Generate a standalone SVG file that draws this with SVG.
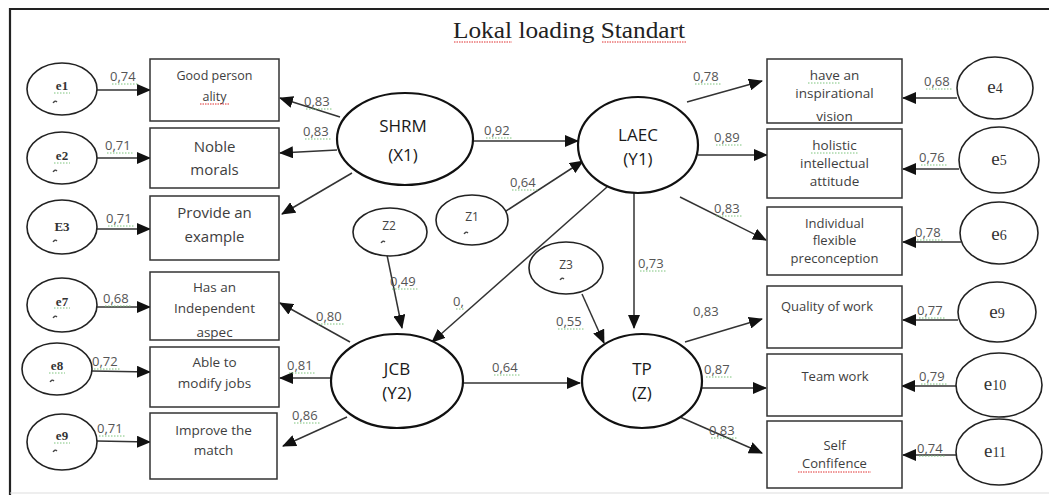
<svg xmlns="http://www.w3.org/2000/svg" width="1049" height="495" viewBox="0 0 1049 495">
  <style>
    .frame { stroke: #222; stroke-width: 2.2; fill: none; }
    .box { fill: #fff; stroke: #333; stroke-width: 1.5; }
    .lat { fill: #fff; stroke: #111; stroke-width: 2.2; }
    .err { fill: #fff; stroke: #222; stroke-width: 1.6; }
    .bt { font-family: "Open Sans", "Liberation Sans", sans-serif; fill: #3e3e3e; text-anchor: middle; }
    .nt { font-family: "Open Sans", "Liberation Sans", sans-serif; font-size: 17px; fill: #1a1a1a; text-anchor: middle; }
    .et { font-family: "Liberation Serif", serif; fill: #333; text-anchor: middle; }
    .zt { font-family: "Open Sans", "Liberation Sans", sans-serif; font-size: 12px; fill: #444; text-anchor: middle; }
    .num { font-family: "Open Sans", "Liberation Sans", sans-serif; font-size: 13px; fill: #555; }
    .edge { stroke: #333; stroke-width: 1.5; fill: none; marker-end: url(#tip); }
    .tilde { stroke: #444; stroke-width: 1.3; fill: none; }
    .green { stroke: #7cc47c; stroke-width: 1; stroke-dasharray: 1.5 1.5; }
    .red { stroke: #e03030; stroke-width: 1; stroke-dasharray: 1.5 1; }
  </style>
  <defs>
    <marker id="tip" markerUnits="userSpaceOnUse" markerWidth="14" markerHeight="12" viewBox="0 0 14 12" refX="13" refY="6" orient="auto">
      <path d="M0,0 L14,6 L0,12 Z" fill="#111"/>
    </marker>
    <clipPath id="clipVision"><rect x="768" y="60" width="133" height="62"/></clipPath>
    <clipPath id="clipAspec"><rect x="151" y="273" width="127" height="66"/></clipPath>
  </defs>

  <rect width="1049" height="495" fill="#fff"/>

  <!-- page frame -->
  <path class="frame" d="M10,495 L10,9 L1049,9"/>
  <line x1="10" y1="493" x2="1049" y2="493" stroke="#ddd" stroke-width="1"/>

  <!-- title -->
  <g id="title">
    <text x="453" y="38" font-family="Liberation Serif, serif" font-size="24" fill="#222" textLength="232" lengthAdjust="spacingAndGlyphs">Lokal loading Standart</text>
    <line class="red" x1="454" y1="42" x2="512" y2="42"/>
    <line class="red" x1="602" y1="42" x2="686" y2="42"/>
  </g>

  <!-- connectors -->
  <g id="connectors">
    <!-- error terms to left indicators -->
    <line class="edge" x1="97" y1="90" x2="150" y2="90"/>
    <line class="edge" x1="97" y1="158" x2="150" y2="158"/>
    <line class="edge" x1="97" y1="229" x2="150" y2="229"/>
    <line class="edge" x1="88" y1="307" x2="150" y2="307"/>
    <line class="edge" x1="92" y1="371" x2="150" y2="372"/>
    <line class="edge" x1="97" y1="441" x2="150" y2="442"/>
    <!-- SHRM loadings -->
    <line class="edge" x1="340" y1="117" x2="280" y2="98"/>
    <line class="edge" x1="337" y1="150" x2="280" y2="153"/>
    <line class="edge" x1="352" y1="173" x2="282" y2="214"/>
    <!-- structural paths -->
    <line class="edge" x1="473" y1="141" x2="578" y2="141"/>
    <line class="edge" x1="503" y1="213" x2="583" y2="161"/>
    <line class="edge" x1="607" y1="187" x2="432" y2="342"/>
    <line class="edge" x1="634" y1="193" x2="634" y2="328"/>
    <line class="edge" x1="387" y1="255" x2="402" y2="328"/>
    <line class="edge" x1="582" y1="294" x2="604" y2="343"/>
    <line class="edge" x1="463" y1="383" x2="580" y2="383"/>
    <!-- JCB loadings -->
    <line class="edge" x1="350" y1="342" x2="280" y2="303"/>
    <line class="edge" x1="331" y1="378" x2="280" y2="378"/>
    <line class="edge" x1="347" y1="417" x2="283" y2="446"/>
    <!-- LAEC loadings -->
    <line class="edge" x1="687" y1="102" x2="762" y2="81"/>
    <line class="edge" x1="698" y1="155" x2="767" y2="155"/>
    <line class="edge" x1="680" y1="197" x2="766" y2="240"/>
    <!-- TP loadings -->
    <line class="edge" x1="685" y1="342" x2="762" y2="319"/>
    <line class="edge" x1="702" y1="388" x2="766" y2="388"/>
    <line class="edge" x1="680" y1="417" x2="762" y2="453"/>
    <!-- error terms to right indicators -->
    <line class="edge" x1="957" y1="98" x2="903" y2="98"/>
    <line class="edge" x1="959" y1="169" x2="903" y2="169"/>
    <line class="edge" x1="961" y1="242" x2="903" y2="242"/>
    <line class="edge" x1="958" y1="320" x2="903" y2="320"/>
    <line class="edge" x1="956" y1="386" x2="902" y2="386"/>
    <line class="edge" x1="956" y1="455" x2="903" y2="455"/>
  </g>

  <!-- coefficient labels -->
  <g id="coefficients">
    <text class="num" x="110" y="81">0,74</text>
    <text class="num" x="105" y="150">0,71</text>
    <text class="num" x="106" y="223">0,71</text>
    <text class="num" x="103" y="303">0,68</text>
    <text class="num" x="92" y="366">0,72</text>
    <text class="num" x="97" y="433">0,71</text>
    <text class="num" x="304" y="106">0,83</text>
    <text class="num" x="303" y="136">0,83</text>
    <text class="num" x="484" y="135">0,92</text>
    <text class="num" x="510" y="187">0,64</text>
    <text class="num" x="453" y="306">0,</text>
    <text class="num" x="390" y="286">0,49</text>
    <text class="num" x="556" y="326">0,55</text>
    <text class="num" x="638" y="268">0,73</text>
    <text class="num" x="492" y="372">0,64</text>
    <text class="num" x="316" y="321">0,80</text>
    <text class="num" x="287" y="370">0,81</text>
    <text class="num" x="292" y="420">0,86</text>
    <text class="num" x="693" y="81">0,78</text>
    <text class="num" x="714" y="142">0,89</text>
    <text class="num" x="714" y="213">0,83</text>
    <text class="num" x="693" y="316">0,83</text>
    <text class="num" x="704" y="374">0,87</text>
    <text class="num" x="709" y="435">0,83</text>
    <text class="num" x="924" y="86">0,68</text>
    <text class="num" x="919" y="162">0,76</text>
    <text class="num" x="915" y="237">0,78</text>
    <text class="num" x="917" y="315">0,77</text>
    <text class="num" x="919" y="381">0,79</text>
    <text class="num" x="917" y="453">0,74</text>
    <!-- proofing marks under the numbers -->
    <path class="green" d="M112,84h27 M107,153h27 M108,226h27 M105,306h27 M94,369h27 M99,436h27 M306,109h27 M305,139h27 M486,138h27 M512,190h27 M456,309h8 M392,289h27 M558,329h27 M640,271h27 M494,375h27 M318,324h27 M289,373h27 M294,423h27 M695,84h27 M716,145h27 M716,216h27 M706,377h27 M711,438h27 M926,89h27 M921,165h27 M917,240h27 M919,318h27 M921,384h27 M919,456h27"/>
  </g>

  <!-- left indicators -->
  <g id="good-personality">
    <rect class="box" x="150" y="59" width="129" height="62"/>
    <text class="bt" font-size="12.5" x="214.5" y="80">Good person</text>
    <text class="bt" font-size="12.5" x="214.5" y="101">ality</text>
    <line class="red" x1="200" y1="104" x2="230" y2="104"/>
  </g>
  <g id="noble-morals">
    <rect class="box" x="150" y="128" width="129" height="60"/>
    <text class="bt" font-size="15" x="214.5" y="152">Noble</text>
    <text class="bt" font-size="15" x="214.5" y="175">morals</text>
  </g>
  <g id="provide-example">
    <rect class="box" x="150" y="196" width="129" height="64"/>
    <text class="bt" font-size="15" x="214.5" y="218">Provide an</text>
    <text class="bt" font-size="15" x="214.5" y="242">example</text>
  </g>
  <g id="independent-aspec">
    <rect class="box" x="150" y="272" width="129" height="68"/>
    <g clip-path="url(#clipAspec)">
      <text class="bt" font-size="13.5" x="214.5" y="292">Has an</text>
      <text class="bt" font-size="13.5" x="214.5" y="313">Independent</text>
      <text class="bt" font-size="13.5" x="214.5" y="337">aspec</text>
    </g>
  </g>
  <g id="modify-jobs">
    <rect class="box" x="150" y="347" width="129" height="60"/>
    <text class="bt" font-size="13.5" x="214.5" y="367">Able to</text>
    <text class="bt" font-size="13.5" x="214.5" y="388">modify jobs</text>
  </g>
  <g id="improve-match">
    <rect class="box" x="150" y="413" width="127" height="66"/>
    <text class="bt" font-size="13.5" x="213.5" y="435">Improve the</text>
    <text class="bt" font-size="13.5" x="213.5" y="455">match</text>
  </g>

  <!-- left error terms -->
  <g id="e1">
    <ellipse class="err" cx="62" cy="89" rx="35" ry="26"/>
    <text class="et" font-size="13" font-weight="bold" x="62" y="90">e1</text>
    <line class="green" x1="54" y1="93" x2="70" y2="93"/>
    <path class="tilde" d="M53,103 q2,-3 4,-1"/>
  </g>
  <g id="e2">
    <ellipse class="err" cx="62" cy="158" rx="35" ry="26"/>
    <text class="et" font-size="13" font-weight="bold" x="62" y="160">e2</text>
    <line class="green" x1="54" y1="163" x2="70" y2="163"/>
    <path class="tilde" d="M53,172 q2,-3 4,-1"/>
  </g>
  <g id="e3">
    <ellipse class="err" cx="62" cy="227" rx="35" ry="27"/>
    <text class="et" font-size="13" font-weight="bold" x="62" y="231">E3</text>
    <path class="tilde" d="M53,242 q2,-3 4,-1"/>
  </g>
  <g id="e7">
    <ellipse class="err" cx="62" cy="305" rx="35" ry="27"/>
    <text class="et" font-size="13" font-weight="bold" x="62" y="306">e7</text>
    <line class="green" x1="54" y1="308" x2="70" y2="308"/>
    <path class="tilde" d="M53,318 q2,-3 4,-1"/>
  </g>
  <g id="e8">
    <ellipse class="err" cx="57" cy="369" rx="35" ry="26"/>
    <text class="et" font-size="13" font-weight="bold" x="57" y="370">e8</text>
    <line class="green" x1="49" y1="373" x2="65" y2="373"/>
    <path class="tilde" d="M50,382 q2,-3 4,-1"/>
  </g>
  <g id="e9-left">
    <ellipse class="err" cx="62" cy="442" rx="35" ry="28"/>
    <text class="et" font-size="13" font-weight="bold" x="62" y="440">e9</text>
    <line class="green" x1="54" y1="443" x2="70" y2="443"/>
    <path class="tilde" d="M53,452 q2,-3 4,-1"/>
  </g>

  <!-- latent constructs -->
  <g id="shrm">
    <ellipse class="lat" cx="405" cy="139" rx="68" ry="46"/>
    <text class="nt" x="403" y="132">SHRM</text>
    <text class="nt" x="403" y="161">(X1)</text>
  </g>
  <g id="laec">
    <ellipse class="lat" cx="638" cy="145" rx="60" ry="48"/>
    <text class="nt" x="638" y="141">LAEC</text>
    <text class="nt" x="638" y="165">(Y1)</text>
  </g>
  <g id="jcb">
    <ellipse class="lat" cx="397" cy="381" rx="66" ry="47"/>
    <text class="nt" x="397" y="375">JCB</text>
    <text class="nt" x="397" y="399">(Y2)</text>
  </g>
  <g id="tp">
    <ellipse class="lat" cx="642" cy="381" rx="60" ry="47"/>
    <text class="nt" x="642" y="375">TP</text>
    <text class="nt" x="642" y="399">(Z)</text>
  </g>

  <!-- structural disturbances -->
  <g id="z1">
    <ellipse class="err" cx="472" cy="220" rx="36" ry="25"/>
    <text class="zt" x="472" y="221">Z1</text>
    <path class="tilde" d="M464,234 q2,-3 4,-1"/>
  </g>
  <g id="z2">
    <ellipse class="err" cx="390" cy="232" rx="37" ry="24"/>
    <text class="zt" x="389" y="230">Z2</text>
    <path class="tilde" d="M381,243 q2,-3 4,-1"/>
  </g>
  <g id="z3">
    <ellipse class="err" cx="566" cy="268" rx="37" ry="26"/>
    <text class="zt" x="566" y="269">Z3</text>
    <path class="tilde" d="M560,280 q2,-3 4,-1"/>
  </g>

  <!-- right indicators -->
  <g id="inspirational-vision">
    <rect class="box" x="767" y="59" width="135" height="64"/>
    <g clip-path="url(#clipVision)">
      <text class="bt" font-size="13.5" x="834.5" y="80">have an</text>
      <text class="bt" font-size="13.5" x="834.5" y="98">inspirational</text>
      <text class="bt" font-size="13.5" x="834.5" y="121">vision</text>
    </g>
    <line class="green" x1="808" y1="83" x2="840" y2="83"/>
  </g>
  <g id="holistic-attitude">
    <rect class="box" x="767" y="129" width="135" height="69"/>
    <text class="bt" font-size="13.5" x="834.5" y="150">holistic</text>
    <text class="bt" font-size="13.5" x="834.5" y="168">intellectual</text>
    <text class="bt" font-size="13.5" x="834.5" y="186">attitude</text>
    <line class="green" x1="811" y1="153" x2="858" y2="153"/>
  </g>
  <g id="flexible-preconception">
    <rect class="box" x="767" y="207" width="135" height="68"/>
    <text class="bt" font-size="13" x="834.5" y="228">Individual</text>
    <text class="bt" font-size="13" x="834.5" y="245">flexible</text>
    <text class="bt" font-size="13" x="834.5" y="263">preconception</text>
  </g>
  <g id="quality-of-work">
    <rect class="box" x="767" y="286" width="135" height="62"/>
    <text class="bt" font-size="13" x="827" y="311">Quality of work</text>
  </g>
  <g id="team-work">
    <rect class="box" x="767" y="354" width="135" height="62"/>
    <text class="bt" font-size="13" x="835" y="381">Team work</text>
  </g>
  <g id="self-confidence">
    <rect class="box" x="767" y="421" width="135" height="67"/>
    <text class="bt" font-size="13" x="834.5" y="450">Self</text>
    <text class="bt" font-size="13" x="834.5" y="468">Confifence</text>
    <line class="red" x1="798" y1="472" x2="871" y2="472"/>
  </g>

  <!-- right error terms -->
  <g id="e4">
    <ellipse class="err" cx="995" cy="88" rx="38" ry="31"/>
    <text class="et" x="995" y="93"><tspan font-size="19">e</tspan><tspan font-size="14">4</tspan></text>
  </g>
  <g id="e5">
    <ellipse class="err" cx="999" cy="160" rx="40" ry="33"/>
    <text class="et" x="999" y="165"><tspan font-size="19">e</tspan><tspan font-size="14">5</tspan></text>
  </g>
  <g id="e6">
    <ellipse class="err" cx="999" cy="233" rx="39" ry="31"/>
    <text class="et" x="999" y="240"><tspan font-size="19">e</tspan><tspan font-size="14">6</tspan></text>
  </g>
  <g id="e9-right">
    <ellipse class="err" cx="997" cy="312" rx="39" ry="30"/>
    <text class="et" x="997" y="318"><tspan font-size="19">e</tspan><tspan font-size="14">9</tspan></text>
  </g>
  <g id="e10">
    <ellipse class="err" cx="999" cy="385" rx="43" ry="32"/>
    <text class="et" x="995" y="390"><tspan font-size="19">e</tspan><tspan font-size="14">10</tspan></text>
  </g>
  <g id="e11">
    <ellipse class="err" cx="999" cy="452" rx="43" ry="33"/>
    <text class="et" x="995" y="457"><tspan font-size="19">e</tspan><tspan font-size="14">11</tspan></text>
  </g>
</svg>
